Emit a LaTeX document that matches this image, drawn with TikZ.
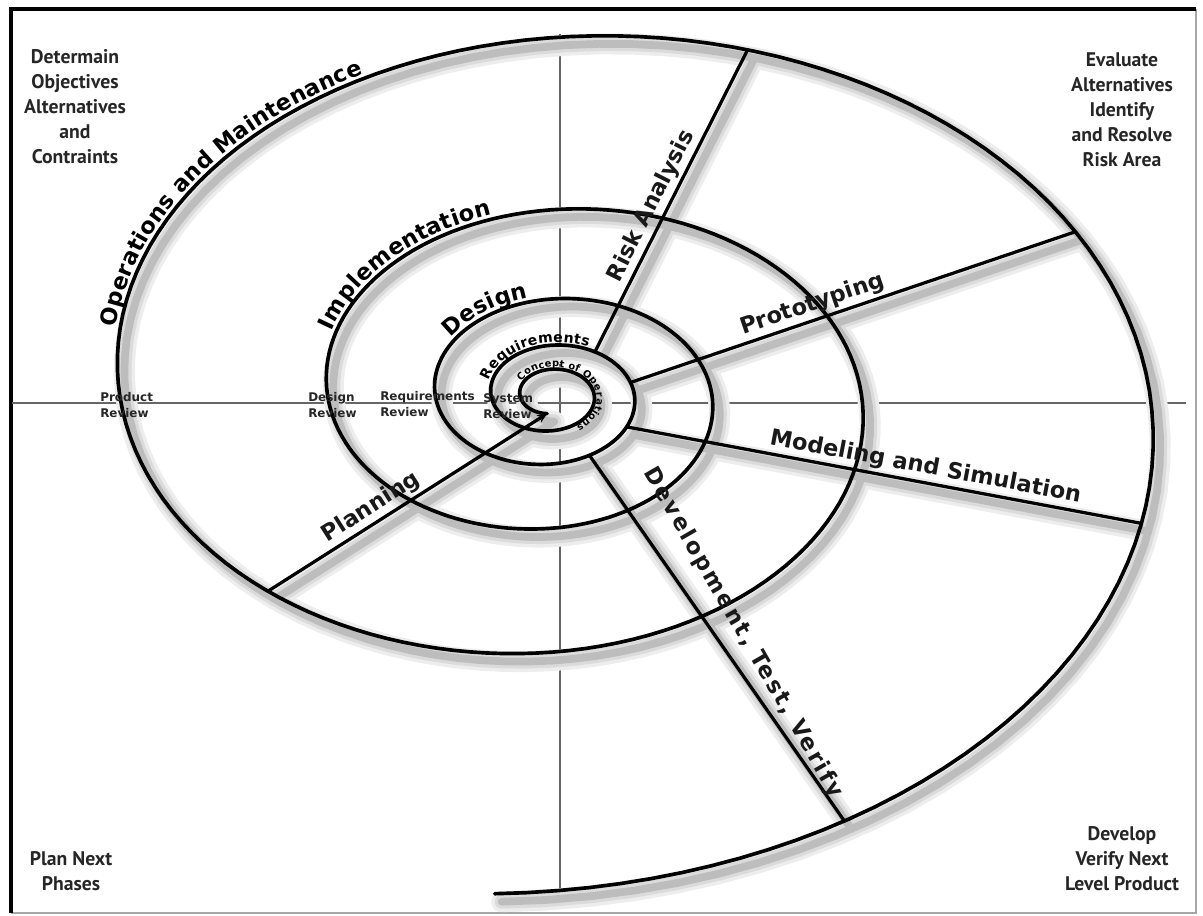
\documentclass[tikz,border=0pt]{standalone}
\usepackage{fontspec}
\setmainfont{DejaVu Sans}
\newfontfamily\quadfont{PT Sans}
\usetikzlibrary{arrows.meta,decorations.text}
\newcommand\phasefont{\fontsize{16}{19}\selectfont\bfseries}
\newcommand\reqfont{\fontsize{10}{12}\selectfont\bfseries}
\newcommand\conopsfont{\fontsize{7}{9}\selectfont\bfseries}
\tikzset{
  >={Stealth[length=7pt,width=6pt]},
  spiral/.style={draw=black,line width=2.6pt,line cap=round},
  spoke/.style={draw=black,line width=2.3pt,line cap=round},
  halo/.style={draw=black!#1,line cap=round,transform canvas={shift={(7,8)}}},
  axis line/.style={draw=black!60,line width=0.9pt},
  quadrant/.style={font=\quadfont\bfseries\fontsize{14}{17.8}\selectfont,text=black!85,align=center},
  review/.style={font=\bfseries\fontsize{8.5}{11.5}\selectfont,text=black!85,align=left,anchor=west,inner sep=0pt},
  phase/.style={font=\phasefont,text=black!90,inner sep=2pt},
  curved label/.style n args={3}{decorate,decoration={text along path,text align=center,raise=#3,text={|#2|#1}}},
}

\begin{document}
\begin{tikzpicture}[x=0.025cm,y=-0.025cm,
  declare function={sx(\t)=551+599*exp(-0.1046*(\t))*cos(deg(\t));
    sy(\t)=395-421*exp(-0.1046*(\t))*sin(deg(\t));}]
\useasboundingbox (0,0) rectangle (1203,915);
% frame
\draw[black!35,line width=0.8pt] (1196,9) -- (1196,913) -- (11,913);
\draw[black,line width=2.2pt] (1196,9) -- (11,9) -- (11,913);

% quadrant axes
\coordinate (ax west) at (12,403);
\coordinate (ax east) at (1186,403);
\coordinate (ax north) at (560,34);
\coordinate (ax south) at (560,897);
\draw[axis line] (ax west) -- (ax east);
\draw[axis line] (ax north) -- (ax south);

% spoke ends on the spiral (outer turn / inner turn)
\coordinate (risk out) at ({sx(1.19)},{sy(1.19)});
\coordinate (risk in) at ({sx(19.8)},{sy(19.8)});
\coordinate (proto out) at ({sx(0.417)},{sy(0.417)});
\coordinate (proto in) at ({sx(19.07)},{sy(19.07)});
\coordinate (model out) at ({sx(-0.30)},{sy(-0.30)});
\coordinate (model in) at ({sx(18.31)},{sy(18.31)});
\coordinate (devel out) at ({sx(-1.12)},{sy(-1.12)});
\coordinate (devel in) at ({sx(17.70)},{sy(17.70)});
\coordinate (plan out) at ({sx(3.92)},{sy(3.92)});
\coordinate (plan in) at ({sx(29.7)},{sy(29.7)});

% soft shadow
\foreach \w/\c in {15/7,10/14,5.5/26}{
  \draw[halo=\c,line width=\w pt] plot[domain=-1.65:29.7,samples=500,variable=\t] ({sx(\t)},{sy(\t)});
  \foreach \name in {risk,proto,model,devel,plan}
    \draw[halo=\c,line width=\w pt] (\name\space out) -- (\name\space in);
}

% spiral
\draw[spiral] plot[domain=-1.65:29.7,samples=700,variable=\t] ({sx(\t)},{sy(\t)});

% spokes
\draw[spoke] (risk in) -- node[phase,sloped,above,pos=0.46] (risk lbl) {Risk Analysis} (risk out);
\draw[spoke] (proto in) -- node[phase,sloped,above,pos=0.42] (proto lbl) {Prototyping} (proto out);
\draw[spoke] (model in) -- node[phase,sloped,above,pos=0.575] (model lbl) {Modeling and Simulation} (model out);
\draw[spoke] (devel in) -- (devel out);
\node[phase,rotate=-60,font=\phasefont\addfontfeature{LetterSpace=10}] (devel lbl) at (743,633) {Development, Test, Verify};
\draw[spoke,->] (plan out) -- node[phase,sloped,above,pos=0.4] (plan lbl) {Planning} (plan in);

% labels along the turns
\path[curved label={Operations and Maintenance}{\phasefont}{3pt}]
  plot[domain=0:1.4,samples=60,variable=\s] ({sx(3.19-\s)},{sy(3.19-\s)});
\path[curved label={Implementation}{\phasefont}{3pt}]
  plot[domain=0:1.5,samples=60,variable=\s] ({sx(9.37-\s)},{sy(9.37-\s)});
\path[curved label={Design}{\phasefont}{3pt}]
  plot[domain=0:1.1,samples=60,variable=\s] ({sx(15.25-\s)},{sy(15.25-\s)});
\path[curved label={Requirements}{\reqfont}{2pt}]
  plot[domain=0:2.2,samples=60,variable=\s] ({sx(21.95-\s)},{sy(21.95-\s)});
\path[curved label={Concept of Operations}{\conopsfont}{1.5pt}]
  plot[domain=0:4.2,samples=80,variable=\s] ({sx(28.1-\s)},{sy(28.1-\s)});

% reviews
\node[review] (prod rev) at (100,405) {Product\\Review};
\node[review] (des rev) at (308,405) {Design\\Review};
\node[review] (req rev) at (380,404) {Requirements\\Review};
\node[review] (sys rev) at (483,406) {System\\Review};

% quadrants
\node[quadrant] (q1) at (75,107) {Determain\\Objectives\\Alternatives\\and\\Contraints};
\node[quadrant] (q2) at (1122,110) {Evaluate\\Alternatives\\Identify\\and Resolve\\Risk Area};
\node[quadrant] (q3) at (71,871) {Plan Next\\Phases};
\node[quadrant] (q4) at (1122,859) {Develop\\Verify Next\\Level Product};
\end{tikzpicture}
\end{document}
